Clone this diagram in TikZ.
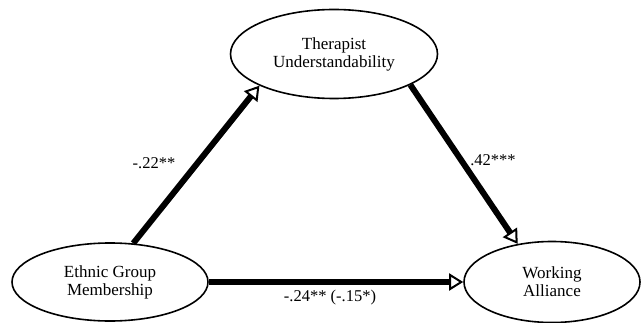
\documentclass[tikz,border=0pt]{standalone}
\usepackage{fontspec}
\setmainfont{Liberation Serif}
\usetikzlibrary{shapes.geometric,arrows.meta}
\tikzset{
  construct/.style={ellipse, draw=black, line width=1.6pt, inner sep=0pt, align=center,
    font=\fontsize{17}{18}\selectfont},
  path/.style={line width=6pt, draw=black,
    -{Triangle[fill=white, length=14pt, width=17pt, line width=2pt]}},
  coef/.style={font=\fontsize{16.5}{18}\selectfont, inner sep=0pt}
}
\begin{document}
\begin{tikzpicture}[x=1pt,y=-1pt]
\useasboundingbox (0,0) rectangle (644,323);
\node[construct, minimum width=196pt, minimum height=78pt] (eth) at (110,282) {Ethnic Group\\Membership};
\node[construct, minimum width=207pt, minimum height=89pt] (ther) at (334,54) {Therapist\\Understandability};
\node[construct, minimum width=176pt, minimum height=81pt] (work) at (552,282) {Working\\Alliance};
\draw[path] (eth.59.5) -- (ther.203.5);
\draw[path] (ther.-22) -- (work.132);
\draw[path] (eth.east) -- (work.west);
\node[coef] (c1) at (154,163) {-.22**};
\node[coef] (c2) at (493,160) {.42***};
\node[coef] (c3) at (330,298) {-.24** (-.15*)};
\end{tikzpicture}
\end{document}
